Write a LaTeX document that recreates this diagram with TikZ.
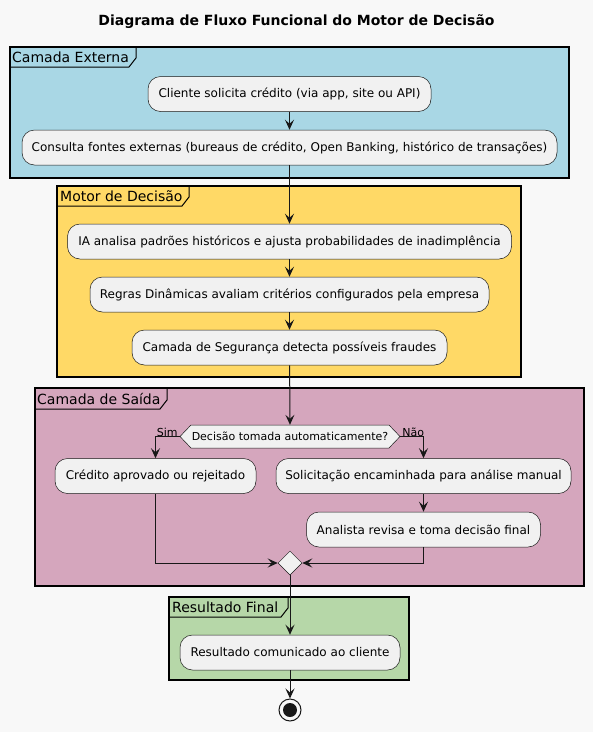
\documentclass[tikz,border=0pt]{standalone}
\usepackage{fontspec}
\setmainfont{DejaVu Sans}
\usetikzlibrary{arrows.meta,shapes.geometric}
\definecolor{bgC}{HTML}{F8F8F8}
\definecolor{nodeC}{HTML}{F1F1F1}
\definecolor{lineC}{HTML}{181818}
\definecolor{blueC}{HTML}{A9D7E5}
\definecolor{yellowC}{HTML}{FFD966}
\definecolor{pinkC}{HTML}{D5A6BD}
\definecolor{greenC}{HTML}{B6D7A8}
\tikzset{
  box/.style={draw=lineC, fill=nodeC, rounded corners=12.5, line width=0.5pt,
    minimum height=35, inner sep=0pt, font=\fontsize{12}{14}\selectfont, text=black},
  arr/.style={draw=lineC, line width=1pt, -{Stealth[length=10pt,width=9pt,inset=4pt]}},
  frame/.style={draw=black, line width=1.5pt},
  tab/.style={draw=black, line width=1pt},
  flabel/.style={anchor=west, inner sep=0pt, font=\fontsize{14}{16}\selectfont, text=black},
  small/.style={inner sep=1pt, font=\fontsize{11}{13}\selectfont, text=black}
}
\begin{document}
\begin{tikzpicture}[x=1pt,y=-1pt]
\useasboundingbox (0,0) rectangle (593,732);
\fill[bgC] (0,0) rectangle (593,732);

\node[font=\fontsize{14}{16}\selectfont\bfseries] (title) at (296.5,22) {Diagrama de Fluxo Funcional do Motor de Decisão};

% Frames
\draw[frame, fill=blueC] (10,47) rectangle (569,178);
\draw[tab] (10,67) -- (129,67) -- (136,58) -- (136,47);
\node[flabel] (l1) at (12,57.5) {Camada Externa};

\draw[frame, fill=yellowC] (57,186) rectangle (521,377);
\draw[tab] (57,206) -- (182,206) -- (189,197) -- (189,186);
\node[flabel] (l2) at (60,196.5) {Motor de Decisão};

\draw[frame, fill=pinkC] (35,388) rectangle (584,586);
\draw[tab] (35,409) -- (160,409) -- (167,400) -- (167,388);
\node[flabel] (l3) at (37,398.5) {Camada de Saída};

\draw[frame, fill=greenC] (169,597) rectangle (409,680);
\draw[tab] (169,617) -- (281,617) -- (288,608) -- (288,597);
\node[flabel] (l4) at (172,607.5) {Resultado Final};

% Nodes
\node[box, minimum width=283] (a) at (289.5,94) {Cliente solicita crédito (via app, site ou API)};
\node[box, minimum width=535] (b) at (289.5,147.5) {Consulta fontes externas (bureaus de crédito, Open Banking, histórico de transações)};
\node[box, minimum width=444] (c) at (289.5,241.5) {IA analisa padrões históricos e ajusta probabilidades de inadimplência};
\node[box, minimum width=399] (d) at (289.5,294.5) {Regras Dinâmicas avaliam critérios configurados pela empresa};
\node[box, minimum width=315] (e) at (289.5,347.5) {Camada de Segurança detecta possíveis fraudes};

% decision hexagon
\draw[draw=lineC, fill=nodeC, line width=0.5pt] (180,436.5) -- (191,425) -- (389,425) -- (400,436.5) -- (389,448) -- (191,448) -- cycle;
\node[inner sep=0pt, minimum width=220, minimum height=23, font=\fontsize{11}{13}\selectfont] (dec) at (290,436.5) {Decisão tomada automaticamente?};

\node[box, minimum width=201] (f) at (155.5,476) {Crédito aprovado ou rejeitado};
\node[box, minimum width=295] (g) at (423.5,476) {Solicitação encaminhada para análise manual};
\node[box, minimum width=234] (h) at (423.5,529.5) {Analista revisa e toma decisão final};
\node[diamond, aspect=1, draw=lineC, fill=nodeC, line width=0.5pt, inner sep=0pt, minimum width=24, minimum height=24] (m) at (290,563) {};

\node[box, minimum width=220] (i) at (290,652.5) {Resultado comunicado ao cliente};

\node[circle, draw=lineC, fill=bgC, line width=1pt, minimum size=22, inner sep=0pt] (endo) at (290,710) {};
\node[circle, fill=lineC, minimum size=14, inner sep=0pt] (endi) at (290,710) {};

% labels
\node[small, anchor=south east] (sim) at ([xshift=-1pt,yshift=-1pt]dec.west) {Sim};
\node[small, anchor=south west] (nao) at ([xshift=1pt,yshift=-1pt]dec.east) {Não};

% connectors
\draw[arr] (a) -- (b);
\draw[arr] (b) -- (c);
\draw[arr] (c) -- (d);
\draw[arr] (d) -- (e);
\draw[arr] (e) -- (dec.north);
\draw[arr] (dec.west) -| (f.north);
\draw[arr] (dec.east) -| (g.north);
\draw[arr] (g.south) -- (g.south |- h.north);
\draw[arr] (f.south) |- (m.west);
\draw[arr] (h.south) |- (m.east);
\draw[arr] (m.south) -- (i.north);
\draw[arr] (i.south) -- (endo.north);
\end{tikzpicture}
\end{document}
